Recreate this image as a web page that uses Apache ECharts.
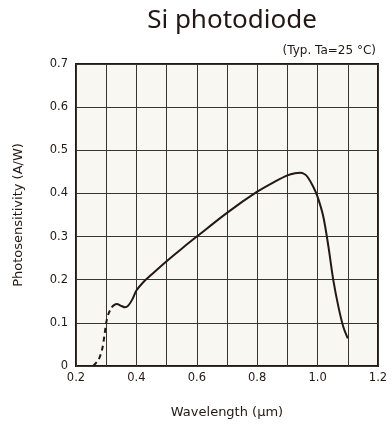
<!DOCTYPE html>
<html>
<head>
<meta charset="utf-8">
<script src="https://cdn.jsdelivr.net/npm/echarts@6/dist/echarts.min.js"></script>
<style>html,body{margin:0;padding:0;background:#fff;}#c{width:392px;height:430px;}</style>
</head>
<body>
<div id="c"></div>
<script>
var titleText = 'Si photodiode';
var noteText = '(Typ. Ta=25 °C)';
var xName = 'Wavelength (µm)';
var yName = 'Photosensitivity (A/W)';
// dashed (extrapolated) part of the response curve: [wavelength µm, A/W]
var dashedPart = [[0.257,0],[0.275,0.015],[0.287,0.04],[0.294,0.07],[0.300,0.100],[0.307,0.120],[0.318,0.136]];
// solid part of the response curve
var solidPart = [[0.318,0.136],[0.326,0.141],[0.335,0.1435],[0.351,0.139],[0.362,0.136],[0.373,0.140],[0.387,0.155],[0.4,0.175],[0.425,0.196],[0.45,0.212],[0.5,0.243],[0.55,0.272],[0.6,0.300],[0.7,0.355],[0.8,0.404],[0.86,0.428],[0.9,0.442],[0.925,0.447],[0.942,0.448],[0.956,0.445],[0.968,0.437],[0.986,0.415],[1.0,0.392],[1.019,0.346],[1.036,0.276],[1.052,0.199],[1.069,0.137],[1.085,0.091],[1.1,0.064]];
var xMin = 0.2, xMax = 1.2, yMin = 0, yMax = 0.7;

var ink = '#231815';
var chart = echarts.init(document.getElementById('c'), null, {renderer:'canvas'});
chart.setOption({
  animation: false,
  backgroundColor: '#ffffff',
  title: [
    {text: titleText, left: 227, top: 3, textAlign: 'center',
     textStyle: {fontFamily: 'Noto Sans', fontWeight: 'normal', fontSize: 26, color: ink}},
    {text: noteText, right: 11, top: 40,
     textStyle: {fontFamily: 'DejaVu Sans', fontWeight: 'normal', fontSize: 12, color: ink}}
  ],
  grid: {left: 76, right: 14, top: 64, bottom: 64, show: true,
         backgroundColor: '#f8f7f1', borderColor: ink, borderWidth: 2},
  xAxis: {
    type: 'value', min: xMin, max: xMax, interval: 0.1,
    name: xName, nameLocation: 'middle', nameGap: 40,
    nameTextStyle: {fontFamily: 'DejaVu Sans', fontSize: 13, color: ink},
    axisLine: {show: false}, axisTick: {show: false},
    axisLabel: {margin: 6, fontFamily: 'DejaVu Sans', fontSize: 11.5, color: ink,
      formatter: function(v){ var k = Math.round(v*10); return k % 2 === 0 ? (k/10).toFixed(1) : ''; }},
    splitLine: {show: true, lineStyle: {color: '#3a3431', width: 1}}
  },
  yAxis: {
    type: 'value', min: yMin, max: yMax, interval: 0.1,
    name: yName, nameLocation: 'middle', nameGap: 51,
    nameTextStyle: {fontFamily: 'DejaVu Sans', fontSize: 13, color: ink},
    axisLine: {show: false}, axisTick: {show: false},
    axisLabel: {margin: 8, fontFamily: 'DejaVu Sans', fontSize: 11.5, color: ink,
      formatter: function(v){ var k = Math.round(v*10); return k === 0 ? '0' : (k/10).toFixed(1); }},
    splitLine: {show: true, lineStyle: {color: '#3a3431', width: 1}}
  },
  series: [
    {type: 'line', data: dashedPart, smooth: 0.3, symbol: 'none',
     lineStyle: {color: ink, width: 2, type: [5, 4]}},
    {type: 'line', data: solidPart, smooth: 0.3, symbol: 'none',
     lineStyle: {color: ink, width: 2}}
  ]
});
</script>
</body>
</html>
